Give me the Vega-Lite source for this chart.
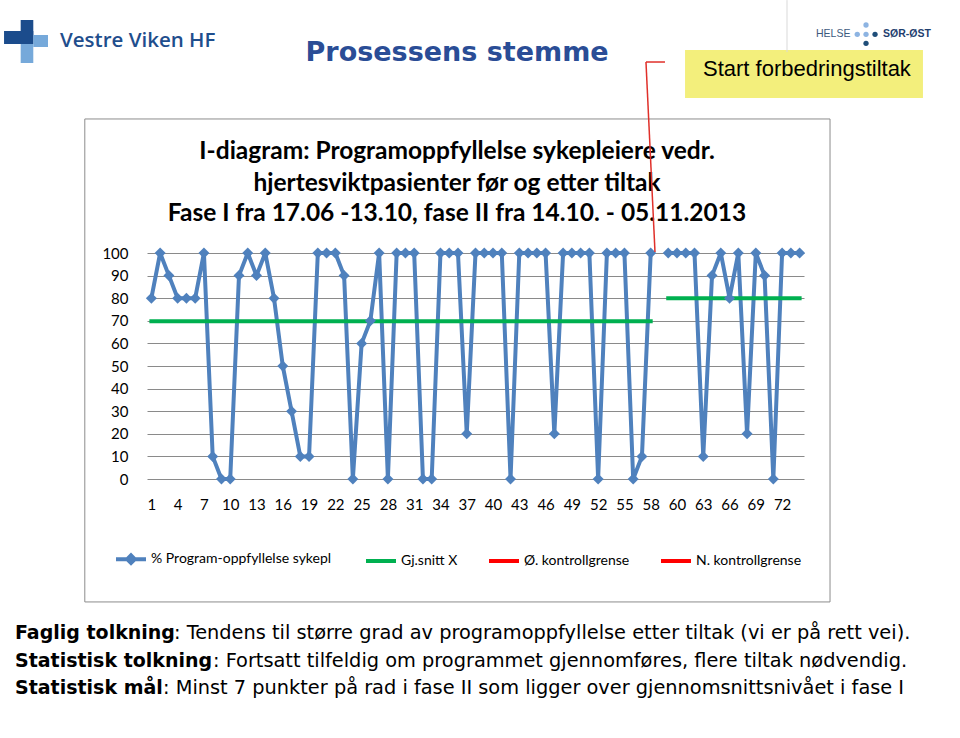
{
  "$schema": "https://vega.github.io/schema/vega-lite/v6.json",
  "width": 657,
  "height": 226,
  "autosize": {"type": "none"},
  "padding": {"left": 147, "top": 253, "right": 156, "bottom": 259},
  "background": "#ffffff",
  "config": {"font": "Lato", "view": {"stroke": null}, "axis": {"labelOverlap": false}},
  "data": {"values": [{}]},
  "datasets": {
    "pst": [
      {"pos":0,"fase":"I","pst":80},{"pos":1,"fase":"I","pst":100},{"pos":2,"fase":"I","pst":90},{"pos":3,"fase":"I","pst":80},{"pos":4,"fase":"I","pst":80},
      {"pos":5,"fase":"I","pst":80},{"pos":6,"fase":"I","pst":100},{"pos":7,"fase":"I","pst":10},{"pos":8,"fase":"I","pst":0},{"pos":9,"fase":"I","pst":0},
      {"pos":10,"fase":"I","pst":90},{"pos":11,"fase":"I","pst":100},{"pos":12,"fase":"I","pst":90},{"pos":13,"fase":"I","pst":100},{"pos":14,"fase":"I","pst":80},
      {"pos":15,"fase":"I","pst":50},{"pos":16,"fase":"I","pst":30},{"pos":17,"fase":"I","pst":10},{"pos":18,"fase":"I","pst":10},{"pos":19,"fase":"I","pst":100},
      {"pos":20,"fase":"I","pst":100},{"pos":21,"fase":"I","pst":100},{"pos":22,"fase":"I","pst":90},{"pos":23,"fase":"I","pst":0},{"pos":24,"fase":"I","pst":60},
      {"pos":25,"fase":"I","pst":70},{"pos":26,"fase":"I","pst":100},{"pos":27,"fase":"I","pst":0},{"pos":28,"fase":"I","pst":100},{"pos":29,"fase":"I","pst":100},
      {"pos":30,"fase":"I","pst":100},{"pos":31,"fase":"I","pst":0},{"pos":32,"fase":"I","pst":0},{"pos":33,"fase":"I","pst":100},{"pos":34,"fase":"I","pst":100},
      {"pos":35,"fase":"I","pst":100},{"pos":36,"fase":"I","pst":20},{"pos":37,"fase":"I","pst":100},{"pos":38,"fase":"I","pst":100},{"pos":39,"fase":"I","pst":100},
      {"pos":40,"fase":"I","pst":100},{"pos":41,"fase":"I","pst":0},{"pos":42,"fase":"I","pst":100},{"pos":43,"fase":"I","pst":100},{"pos":44,"fase":"I","pst":100},
      {"pos":45,"fase":"I","pst":100},{"pos":46,"fase":"I","pst":20},{"pos":47,"fase":"I","pst":100},{"pos":48,"fase":"I","pst":100},{"pos":49,"fase":"I","pst":100},
      {"pos":50,"fase":"I","pst":100},{"pos":51,"fase":"I","pst":0},{"pos":52,"fase":"I","pst":100},{"pos":53,"fase":"I","pst":100},{"pos":54,"fase":"I","pst":100},
      {"pos":55,"fase":"I","pst":0},{"pos":56,"fase":"I","pst":10},{"pos":57,"fase":"I","pst":100},
      {"pos":59,"fase":"II","pst":100},{"pos":60,"fase":"II","pst":100},{"pos":61,"fase":"II","pst":100},{"pos":62,"fase":"II","pst":100},{"pos":63,"fase":"II","pst":10},
      {"pos":64,"fase":"II","pst":90},{"pos":65,"fase":"II","pst":100},{"pos":66,"fase":"II","pst":80},{"pos":67,"fase":"II","pst":100},{"pos":68,"fase":"II","pst":20},
      {"pos":69,"fase":"II","pst":100},{"pos":70,"fase":"II","pst":90},{"pos":71,"fase":"II","pst":0},{"pos":72,"fase":"II","pst":100},{"pos":73,"fase":"II","pst":100},
      {"pos":74,"fase":"II","pst":100}
    ],
    "snitt": [
      {"fase":"I","fra":0,"til":57,"snitt":69.8},
      {"fase":"II","fra":59,"til":74,"snitt":80}
    ]
  },
  "layer": [
    {"data": {"name": "pst"},
     "mark": {"type": "line", "strokeWidth": 4, "strokeJoin": "round"},
     "encoding": {
       "x": {"field": "pos", "type": "quantitative",
             "scale": {"domain": [-0.5, 74.5], "nice": false, "zero": false},
             "axis": {"title": null, "values": [0,3,6,9,12,15,18,21,24,27,30,33,36,39,42,45,48,51,54,57,60,63,66,69,72], "tickCount": 100,
                      "labelExpr": "'' + (datum.value < 58 ? datum.value + 1 : datum.value)",
                      "grid": false, "ticks": false, "domain": false, "labelPadding": 18, "labelFont": "Lato", "labelFontSize": 15, "labelColor": "#000000", "labelOverlap": false, "labelFlush": false}},
       "y": {"field": "pst", "type": "quantitative",
             "scale": {"domain": [0, 100], "nice": false},
             "axis": {"title": null, "values": [0,10,20,30,40,50,60,70,80,90,100], "tickCount": 100, "grid": true, "gridColor": "#8A8A8A", "gridWidth": 1,
                      "ticks": false, "domain": false, "labelPadding": 19, "labelFont": "Lato", "labelFontSize": 15, "labelColor": "#000000"}},
       "detail": {"field": "fase"},
       "color": {"datum": "% Program-oppfyllelse  sykepl",
                 "scale": {"domain": ["% Program-oppfyllelse  sykepl", "Gj.snitt X", "Ø. kontrollgrense", "N. kontrollgrense"],
                           "range": ["#4F81BD", "#00B050", "#FF0000", "#FF0000"]},
                 "legend": {"orient": "none", "legendX": -33, "legendY": 289, "direction": "horizontal", "title": null,
                            "symbolType": "M-1,0H1", "symbolSize": 900, "symbolStrokeWidth": 4, "padding": 0, "labelLimit": 400,
                            "labelFont": "Lato", "labelFontSize": 14, "labelColor": "#000000", "labelOffset": 3, "columnPadding": 23,
                            "encode": {"symbols": {"update": {
                              "shape": {"signal": "datum.value === '% Program-oppfyllelse  sykepl' ? 'M-1,0H1M-0.25,0L0,-0.25L0.25,0L0,0.25Z' : 'M-1,0H1'"}}}}}}
     }},
    {"data": {"name": "snitt"},
     "mark": {"type": "rule", "strokeWidth": 4, "strokeCap": "square"},
     "encoding": {
       "x": {"field": "fra", "type": "quantitative"},
       "x2": {"field": "til"},
       "y": {"field": "snitt", "type": "quantitative"},
       "color": {"datum": "Gj.snitt X"}
     }},
    {"data": {"name": "pst"},
     "mark": {"type": "point", "shape": "diamond", "filled": true, "size": 120, "opacity": 1, "color": "#4F81BD"},
     "encoding": {
       "x": {"field": "pos", "type": "quantitative"},
       "y": {"field": "pst", "type": "quantitative"}
     }},
    {"mark": {"type": "rect", "fillOpacity": 0, "stroke": "#8C8C8C", "strokeWidth": 1},
     "encoding": {"x": {"datum": -7.6}, "x2": {"datum": 77.47}, "y": {"datum": 159.3}, "y2": {"datum": -54.4}}},
    {"mark": {"type": "rect", "color": "#F3EF7C"},
     "encoding": {"x": {"datum": 60.92}, "x2": {"datum": 88.08}, "y": {"datum": 189.82}, "y2": {"datum": 168.58}}},
    {"mark": {"type": "text", "align": "left", "baseline": "middle", "font": "Liberation Sans", "fontSize": 22, "color": "#000000"},
     "encoding": {"x": {"datum": 62.97}, "y": {"datum": 181.4}, "text": {"value": "Start forbedringstiltak"}}},
    {"mark": {"type": "text", "align": "center", "baseline": "middle", "font": "DejaVu Sans", "fontSize": 27, "fontWeight": "bold", "color": "#2A4D96"},
     "encoding": {"x": {"datum": 34.9}, "y": {"datum": 188.5}, "text": {"value": "Prosessens stemme"}}},
    {"mark": {"type": "rect", "color": "#1B4C8C"},
     "encoding": {"x": {"datum": -14.92}, "x2": {"datum": -13.48}, "y": {"datum": 203.1}, "y2": {"datum": 192.48}}},
    {"mark": {"type": "rect", "color": "#1B4C8C"},
     "encoding": {"x": {"datum": -16.82}, "x2": {"datum": -13.48}, "y": {"datum": 198.23}, "y2": {"datum": 192.48}}},
    {"mark": {"type": "rect", "color": "#76A9DA"},
     "encoding": {"x": {"datum": -13.48}, "x2": {"datum": -11.8}, "y": {"datum": 196.46}, "y2": {"datum": 191.15}}},
    {"mark": {"type": "rect", "color": "#76A9DA"},
     "encoding": {"x": {"datum": -14.92}, "x2": {"datum": -13.48}, "y": {"datum": 192.48}, "y2": {"datum": 184.07}}},
    {"mark": {"type": "text", "align": "left", "baseline": "middle", "font": "Open Sans", "fontSize": 20.5, "fontWeight": 600, "color": "#1F4E8D"},
     "encoding": {"x": {"datum": -10.43}, "y": {"datum": 193.8}, "text": {"value": "Vestre Viken HF"}}},
    {"mark": {"type": "rule", "color": "#D9D9D9", "strokeWidth": 1},
     "encoding": {"x": {"datum": 72.56}, "x2": {"datum": 72.56}, "y": {"datum": 211.9}, "y2": {"datum": 188.9}}},
    {"mark": {"type": "text", "align": "left", "baseline": "middle", "font": "Liberation Sans", "fontSize": 10.5, "color": "#3D5A7D"},
     "encoding": {"x": {"datum": 75.87}, "y": {"datum": 196.77}, "text": {"value": "HELSE"}}},
    {"mark": {"type": "text", "align": "left", "baseline": "middle", "font": "Liberation Sans", "fontSize": 10.5, "fontWeight": "bold", "color": "#1F3F6F"},
     "encoding": {"x": {"datum": 83.52}, "y": {"datum": 196.77}, "text": {"value": "SØR-ØST"}}},
    {"mark": {"type": "circle", "size": 28, "opacity": 1, "color": "#8DB4E2"},
     "encoding": {"x": {"datum": 81.58}, "y": {"datum": 200.88}}},
    {"mark": {"type": "circle", "size": 28, "opacity": 1, "color": "#8DB4E2"},
     "encoding": {"x": {"datum": 80.58}, "y": {"datum": 196.77}}},
    {"mark": {"type": "circle", "size": 28, "opacity": 1, "color": "#8DB4E2"},
     "encoding": {"x": {"datum": 81.58}, "y": {"datum": 196.77}}},
    {"mark": {"type": "circle", "size": 28, "opacity": 1, "color": "#1F4E79"},
     "encoding": {"x": {"datum": 82.61}, "y": {"datum": 196.77}}},
    {"mark": {"type": "circle", "size": 28, "opacity": 1, "color": "#1F4E79"},
     "encoding": {"x": {"datum": 81.58}, "y": {"datum": 192.79}}},
    {"mark": {"type": "text", "align": "center", "baseline": "middle", "font": "Lato", "fontSize": 24.5, "fontWeight": "bold", "color": "#000000"},
     "encoding": {"x": {"datum": 34.89}, "y": {"datum": 144.69}, "text": {"value": "I-diagram: Programoppfyllelse  sykepleiere vedr."}}},
    {"mark": {"type": "text", "align": "center", "baseline": "middle", "font": "Lato", "fontSize": 24.5, "fontWeight": "bold", "color": "#000000"},
     "encoding": {"x": {"datum": 34.89}, "y": {"datum": 130.53}, "text": {"value": "hjertesviktpasienter før og etter tiltak"}}},
    {"mark": {"type": "text", "align": "center", "baseline": "middle", "font": "Lato", "fontSize": 24.5, "fontWeight": "bold", "color": "#000000"},
     "encoding": {"x": {"datum": 34.89}, "y": {"datum": 117.26}, "text": {"value": "Fase I fra 17.06 -13.10, fase II fra 14.10. -  05.11.2013"}}},
    {"mark": {"type": "text", "align": "left", "baseline": "middle", "font": "DejaVu Sans", "fontSize": 19, "fontWeight": "bold", "color": "#000000"},
     "encoding": {"x": {"datum": -15.57}, "y": {"datum": -68.27}, "text": {"value": "Faglig tolkning"}}},
    {"mark": {"type": "text", "align": "left", "baseline": "middle", "font": "DejaVu Sans", "fontSize": 19.35, "color": "#000000"},
     "encoding": {"x": {"datum": 2.58}, "y": {"datum": -68.27}, "text": {"value": ": Tendens til større grad av programoppfyllelse etter tiltak (vi er på rett vei)."}}},
    {"mark": {"type": "text", "align": "left", "baseline": "middle", "font": "DejaVu Sans", "fontSize": 19, "fontWeight": "bold", "color": "#000000"},
     "encoding": {"x": {"datum": -15.57}, "y": {"datum": -80.53}, "text": {"value": "Statistisk tolkning"}}},
    {"mark": {"type": "text", "align": "left", "baseline": "middle", "font": "DejaVu Sans", "fontSize": 19.35, "color": "#000000"},
     "encoding": {"x": {"datum": 7.03}, "y": {"datum": -80.53}, "text": {"value": ": Fortsatt tilfeldig om programmet gjennomføres, flere tiltak nødvendig."}}},
    {"mark": {"type": "text", "align": "left", "baseline": "middle", "font": "DejaVu Sans", "fontSize": 19, "fontWeight": "bold", "color": "#000000"},
     "encoding": {"x": {"datum": -15.57}, "y": {"datum": -92.61}, "text": {"value": "Statistisk mål"}}},
    {"mark": {"type": "text", "align": "left", "baseline": "middle", "font": "DejaVu Sans", "fontSize": 19.35, "color": "#000000"},
     "encoding": {"x": {"datum": 1.33}, "y": {"datum": -92.61}, "text": {"value": ": Minst 7 punkter på rad i fase II som ligger over gjennomsnittsnivået i fase I"}}},
    {"mark": {"type": "rule", "color": "#E0302A", "strokeWidth": 1.5},
     "encoding": {"x": {"datum": 56.46}, "x2": {"datum": 58.63}, "y": {"datum": 184.51}, "y2": {"datum": 184.51}}},
    {"mark": {"type": "rule", "color": "#E0302A", "strokeWidth": 1.5},
     "encoding": {"x": {"datum": 56.46}, "x2": {"datum": 57.49}, "y": {"datum": 184.51}, "y2": {"datum": 100.44}}}
  ]
}
